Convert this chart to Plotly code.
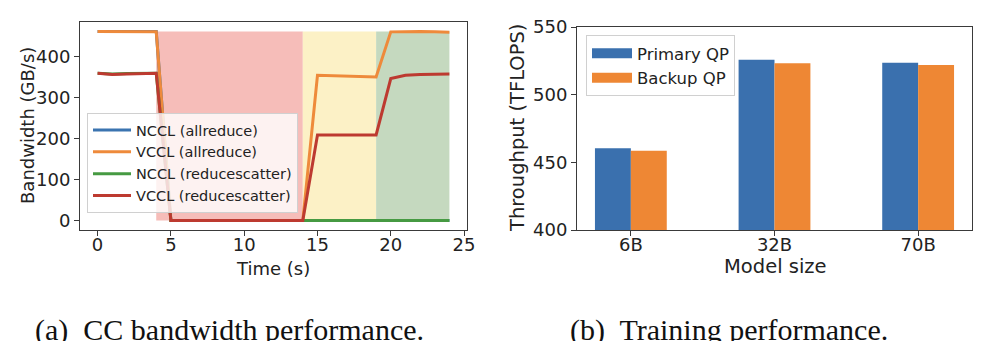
import plotly.graph_objects as go

# ---- (a) collective-communication bandwidth over time ----
time_s = list(range(25))
nccl_allreduce = [462, 462, 462, 462, 462] + [0] * 20
vccl_allreduce = [462, 462, 461, 461, 461] + [0] * 10 + [355, 354, 353, 352, 351] + [461, 462, 462, 461, 460]
nccl_reducescatter = [360, 358, 359, 360, 360] + [0] * 20
vccl_reducescatter = [360, 357, 358, 359, 360] + [0] * 10 + [209, 209, 209, 209, 209] + [347, 355, 357, 358, 358]

phase_edges = [4, 14, 19, 24]
phase_colors = ["#f6bdb9", "#fcf1c6", "#c5d9bf"]

# ---- (b) training throughput ----
model_sizes = ["6B", "32B", "70B"]
primary_qp = [460.4, 525.8, 523.6]
backup_qp = [458.6, 523.2, 522.0]

FONT = "DejaVu Sans"
W, H = 987, 341
AX = "#3a3a3a"
TXT = "#222"

fig = go.Figure()

line_series = [
    ("NCCL (allreduce)", nccl_allreduce, "#3b74b0"),
    ("VCCL (allreduce)", vccl_allreduce, "#ee8a3b"),
    ("NCCL (reducescatter)", nccl_reducescatter, "#469a42"),
    ("VCCL (reducescatter)", vccl_reducescatter, "#bd3a30"),
]
for name, vals, col in line_series:
    fig.add_trace(go.Scatter(
        x=time_s, y=vals, name=name, mode="lines",
        line=dict(color=col, width=3), xaxis="x", yaxis="y", legend="legend",
    ))

# shaded recovery phases
fill_top = max(vccl_allreduce)
for i, col in enumerate(phase_colors):
    fig.add_shape(type="rect", xref="x", yref="y",
                  x0=phase_edges[i], x1=phase_edges[i + 1], y0=0, y1=fill_top,
                  fillcolor=col, line=dict(width=0), layer="below")

bar_colors = ["#3a70ae", "#ee8734"]
for name, vals, col in [("Primary QP", primary_qp, bar_colors[0]),
                        ("Backup QP", backup_qp, bar_colors[1])]:
    fig.add_trace(go.Bar(
        x=model_sizes, y=vals, name=name, marker=dict(color=col, line=dict(width=0)),
        xaxis="x2", yaxis="y2", showlegend=False,
    ))
    # legend key drawn as a thick line to get a wide rectangular swatch
    fig.add_trace(go.Scatter(
        x=[None], y=[None], name=name, mode="lines",
        line=dict(color=col, width=11), xaxis="x2", yaxis="y2", legend="legend2",
    ))


def px_x(p):
    return p / W


def px_y(p):
    return 1 - p / H


def axis_style(tick_size, standoff=0):
    return dict(
        showline=True, mirror=True, linecolor=AX, linewidth=1,
        ticks="outside", ticklen=5, tickwidth=1, tickcolor=AX,
        showgrid=False, zeroline=False, automargin=False,
        tickfont=dict(family=FONT, size=tick_size, color=TXT),
        ticklabelstandoff=standoff,
    )


fig.update_layout(
    width=W, height=H,
    margin=dict(l=0, r=0, t=0, b=0),
    paper_bgcolor="white", plot_bgcolor="white",
    barmode="group", bargap=0.5, bargroupgap=0,
    xaxis=dict(domain=[px_x(80), px_x(467)], range=[-1.2, 25.2],
               tickvals=[0, 5, 10, 15, 20, 25], anchor="y", **axis_style(18, -7)),
    yaxis=dict(domain=[px_y(230), px_y(22)], range=[-23.1, 485.1],
               tickvals=[0, 100, 200, 300, 400], anchor="x", **axis_style(18)),
    xaxis2=dict(domain=[px_x(577), px_x(972)], range=[-0.375, 2.375],
                type="category", anchor="y2", **axis_style(18, -7)),
    yaxis2=dict(domain=[px_y(230), px_y(27)], range=[400, 550],
                tickvals=[400, 450, 500, 550], anchor="x2", **axis_style(18)),
    legend=dict(x=px_x(87), y=px_y(113), xanchor="left", yanchor="top",
                bgcolor="rgba(255,255,255,0.8)", bordercolor="#d0d0d0", borderwidth=1,
                font=dict(family=FONT, size=14.5, color=TXT),
                tracegroupgap=0, itemwidth=38),
    legend2=dict(x=px_x(586), y=px_y(35), xanchor="left", yanchor="top",
                 bgcolor="rgba(255,255,255,0.8)", bordercolor="#d0d0d0", borderwidth=1,
                 font=dict(family=FONT, size=16.5, color=TXT),
                 tracegroupgap=0, itemwidth=40),
    showlegend=True,
)

titles = [
    dict(text="Time (s)", x=px_x(273), y=px_y(268), textangle=0, size=18),
    dict(text="Bandwidth (GB/s)", x=px_x(27), y=px_y(126), textangle=-90, size=18),
    dict(text="Model size", x=px_x(775), y=px_y(266), textangle=0, size=19.5),
    dict(text="Throughput (TFLOPS)", x=px_x(517), y=px_y(128), textangle=-90, size=19.5),
]
for t in titles:
    size = t.pop("size")
    fig.add_annotation(xref="paper", yref="paper", showarrow=False,
                       xanchor="center", yanchor="middle",
                       font=dict(family=FONT, size=size, color=TXT), **t)

for text, x0 in [("(a)  CC bandwidth performance.", 33), ("(b)  Training performance.", 568)]:
    fig.add_annotation(xref="paper", yref="paper", showarrow=False,
                       x=px_x(x0), y=px_y(311), xanchor="left", yanchor="top",
                       text=text, font=dict(family="Liberation Serif", size=30, color="#111"))

fig.write_html("out.html")
